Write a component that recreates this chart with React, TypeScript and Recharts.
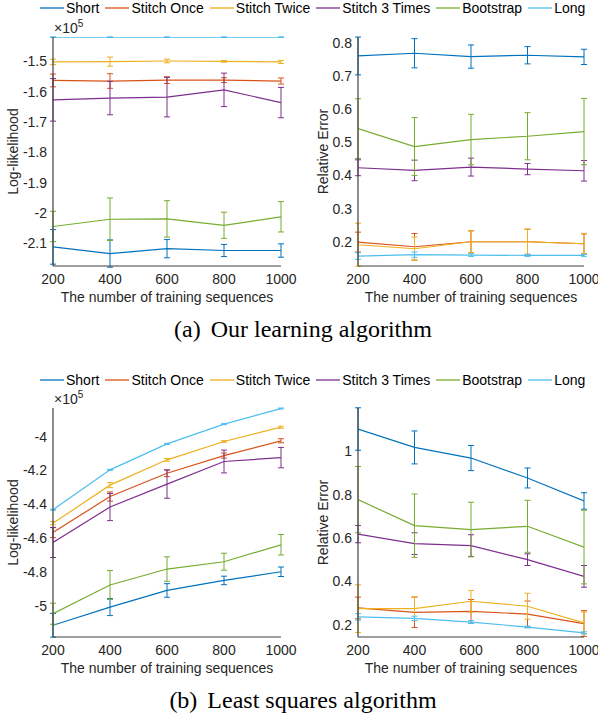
import React from "react";
import { LineChart, Line, XAxis, YAxis, ErrorBar } from "recharts";

const trainingSizes = [200, 400, 600, 800, 1000];
const sizeTicks = [200, 400, 600, 800, 1000];
const seriesNames = ["Short", "Stitch Once", "Stitch Twice", "Stitch 3 Times", "Bootstrap", "Long"];
const seriesColors = ["#0072BD", "#D95319", "#EDB120", "#7E2F8E", "#77AC30", "#4DBEEE"];
const captions = ["(a)", "Our learning algorithm", "(b)", "Least squares algorithm"];
const xLabel = "The number of training sequences";
const yLabels = ["Log-likelihood", "Relative Error"];

// (a) Our learning algorithm — log-likelihood (x 10^5)
const oursLogLikMean = [
  [-2.111, -2.133, -2.117, -2.123, -2.123],
  [-1.563, -1.565, -1.562, -1.562, -1.565],
  [-1.502, -1.501, -1.499, -1.5, -1.502],
  [-1.627, -1.621, -1.618, -1.594, -1.636],
  [-2.044, -2.02, -2.019, -2.04, -2.012],
  [-1.4205, -1.4205, -1.4205, -1.4205, -1.4205],
];
const oursLogLikErr = [
  [0.057, 0.045, 0.03, 0.02, 0.022],
  [0.021, 0.024, 0.011, 0.008, 0.01],
  [0.009, 0.015, 0.006, 0.003, 0.005],
  [0.07, 0.055, 0.065, 0.055, 0.05],
  [0.05, 0.07, 0.06, 0.043, 0.05],
  [0.001, 0.001, 0.001, 0.001, 0.001],
];
const oursLogLikTicks = [-2.1, -2, -1.9, -1.8, -1.7, -1.6, -1.5];
const oursLogLikDomain = [-2.174, -1.42];

// (a) Our learning algorithm — relative error
const oursRelErrMean = [
  [0.76, 0.768, 0.758, 0.762, 0.757],
  [0.199, 0.185, 0.2, 0.2, 0.194],
  [0.191, 0.179, 0.2, 0.2, 0.194],
  [0.423, 0.415, 0.425, 0.419, 0.414],
  [0.541, 0.487, 0.508, 0.518, 0.532],
  [0.157, 0.161, 0.16, 0.159, 0.159],
];
const oursRelErrErr = [
  [0.057, 0.044, 0.035, 0.026, 0.023],
  [0.03, 0.04, 0.033, 0.038, 0.03],
  [0.065, 0.035, 0.033, 0.038, 0.03],
  [0.024, 0.031, 0.027, 0.017, 0.031],
  [0.09, 0.087, 0.076, 0.071, 0.1],
  [0.01, 0.008, 0.004, 0.003, 0.003],
];
const oursRelErrTicks = [0.2, 0.3, 0.4, 0.5, 0.6, 0.7, 0.8];
const oursRelErrDomain = [0.127, 0.817];

// (b) Least squares — log-likelihood (x 10^5)
const lsLogLikMean = [
  [-5.111, -5.004, -4.906, -4.847, -4.796],
  [-4.565, -4.353, -4.216, -4.112, -4.025],
  [-4.51, -4.286, -4.137, -4.029, -3.945],
  [-4.624, -4.415, -4.28, -4.147, -4.124],
  [-5.043, -4.874, -4.78, -4.737, -4.637],
  [-4.431, -4.196, -4.043, -3.927, -3.835],
];
const lsLogLikErr = [
  [0.07, 0.05, 0.04, 0.025, 0.028],
  [0.03, 0.027, 0.02, 0.015, 0.012],
  [0.01, 0.015, 0.008, 0.005, 0.006],
  [0.088, 0.08, 0.083, 0.067, 0.06],
  [0.062, 0.085, 0.072, 0.05, 0.06],
  [0.003, 0.003, 0.003, 0.003, 0.003],
];
const lsLogLikTicks = [-5, -4.8, -4.6, -4.4, -4.2, -4];
const lsLogLikDomain = [-5.18, -3.832];

// (b) Least squares — relative error
const lsRelErrMean = [
  [1.103, 1.018, 0.969, 0.877, 0.771],
  [0.277, 0.257, 0.261, 0.249, 0.205],
  [0.274, 0.274, 0.308, 0.285, 0.208],
  [0.618, 0.574, 0.565, 0.5, 0.423],
  [0.777, 0.657, 0.639, 0.654, 0.558],
  [0.236, 0.229, 0.212, 0.189, 0.162],
];
const lsRelErrErr = [
  [0.098, 0.076, 0.058, 0.046, 0.038],
  [0.05, 0.07, 0.055, 0.06, 0.06],
  [0.11, 0.055, 0.05, 0.06, 0.05],
  [0.04, 0.05, 0.05, 0.027, 0.05],
  [0.153, 0.146, 0.126, 0.12, 0.17],
  [0.015, 0.01, 0.007, 0.004, 0.005],
];
const lsRelErrTicks = [0.2, 0.4, 0.6, 0.8, 1];
const lsRelErrDomain = [0.143, 1.2];

const SANS = '"Liberation Sans", Arial, Helvetica, sans-serif';
const SERIF = '"Liberation Serif", "Times New Roman", serif';
const AXIS = "#262626";

function buildRows(mean: number[][], err: number[][]) {
  return trainingSizes.map((n, i) => {
    const row: Record<string, number> = { n };
    seriesNames.forEach((_, k) => {
      row[`s${k}`] = mean[k][i];
      row[`e${k}`] = err[k][i];
    });
    return row;
  });
}

type PanelProps = {
  left: number;
  top: number;
  width: number;
  yAxisWidth: number;
  marginRight: number;
  domain: number[];
  ticks: number[];
  yLabel: string;
  yLabelOffset: number;
  mean: number[][];
  err: number[][];
};

function Panel(p: PanelProps) {
  const rows = buildRows(p.mean, p.err);
  return (
    <div style={{ position: "absolute", left: p.left, top: p.top }}>
      <LineChart
        width={p.width}
        height={320}
        data={rows}
        margin={{ top: 37, right: p.marginRight, bottom: 0, left: 0 }}
      >
        <XAxis
          dataKey="n"
          type="number"
          domain={[200, 1000]}
          ticks={sizeTicks}
          allowDataOverflow
          tickLine={false}
          tickSize={0}
          tickMargin={8}
          height={54}
          stroke="#404040"
          strokeWidth={1.2}
          tick={{ fill: AXIS, fontSize: 14 }}
          label={{ value: xLabel, position: "insideBottom", offset: 18, fill: AXIS, fontSize: 14 }}
        />
        <YAxis
          type="number"
          domain={p.domain}
          ticks={p.ticks}
          allowDataOverflow
          width={p.yAxisWidth}
          tickLine={false}
          tickSize={0}
          tickMargin={6}
          stroke="#404040"
          strokeWidth={1.2}
          tick={{ fill: AXIS, fontSize: 14 }}
          label={{
            value: p.yLabel,
            angle: -90,
            position: "insideLeft",
            offset: p.yLabelOffset,
            fill: AXIS,
            fontSize: 14,
            style: { textAnchor: "middle" },
          }}
        />
        {seriesNames.map((name, k) => (
          <Line
            key={name}
            name={name}
            type="linear"
            dataKey={`s${k}`}
            stroke={seriesColors[k]}
            strokeWidth={1.2}
            dot={false}
            activeDot={false}
            isAnimationActive={false}
          >
            <ErrorBar
              dataKey={`e${k}`}
              width={3}
              stroke={seriesColors[k]}
              strokeWidth={1}
              direction="y"
              isAnimationActive={false}
            />
          </Line>
        ))}
      </LineChart>
    </div>
  );
}

function LegendRow({ top }: { top: number }) {
  return (
    <div
      style={{
        position: "absolute",
        left: 40,
        top,
        height: 16,
        display: "flex",
        alignItems: "center",
        whiteSpace: "nowrap",
        fontFamily: SANS,
        fontSize: 14,
        color: "#000",
      }}
    >
      {seriesNames.map((name, k) => (
        <div key={name} style={{ display: "flex", alignItems: "center", marginRight: 6 }}>
          <svg width={24} height={16} style={{ display: "block" }}>
            <line x1={0} y1={8} x2={24} y2={8} stroke={seriesColors[k]} strokeWidth={1.3} />
          </svg>
          <span style={{ marginLeft: 2, lineHeight: "16px" }}>{name}</span>
        </div>
      ))}
    </div>
  );
}

export default function App() {
  const dy = 371;
  return (
    <div
      style={{
        position: "absolute",
        left: 0,
        top: 0,
        width: 598,
        height: 719,
        background: "#fff",
        fontFamily: SANS,
        overflow: "hidden",
      }}
    >
      <LegendRow top={0} />
      <LegendRow top={dy + 1} />
      <Panel
        left={0}
        top={0}
        width={300}
        yAxisWidth={53}
        marginRight={19}
        domain={oursLogLikDomain}
        ticks={oursLogLikTicks}
        yLabel={yLabels[0]}
        yLabelOffset={13}
        mean={oursLogLikMean}
        err={oursLogLikErr}
      />
      <Panel
        left={300}
        top={0}
        width={298}
        yAxisWidth={58}
        marginRight={14}
        domain={oursRelErrDomain}
        ticks={oursRelErrTicks}
        yLabel={yLabels[1]}
        yLabelOffset={23}
        mean={oursRelErrMean}
        err={oursRelErrErr}
      />
      <Panel
        left={0}
        top={dy}
        width={300}
        yAxisWidth={53}
        marginRight={19}
        domain={lsLogLikDomain}
        ticks={lsLogLikTicks}
        yLabel={yLabels[0]}
        yLabelOffset={13}
        mean={lsLogLikMean}
        err={lsLogLikErr}
      />
      <Panel
        left={300}
        top={dy}
        width={298}
        yAxisWidth={58}
        marginRight={14}
        domain={lsRelErrDomain}
        ticks={lsRelErrTicks}
        yLabel={yLabels[1]}
        yLabelOffset={23}
        mean={lsRelErrMean}
        err={lsRelErrErr}
      />
      <svg
        width={598}
        height={719}
        style={{ position: "absolute", left: 0, top: 0, pointerEvents: "none" }}
      >
        {[0, dy].map((off) => (
          <text key={off} x={54} y={33.3 + off} fontSize={14} fill={AXIS} fontFamily={SANS}>
            ×10
            <tspan dy={-6} fontSize={10}>5</tspan>
          </text>
        ))}
        <text x={303} y={337} textAnchor="middle" fontSize={24} fill="#000" fontFamily={SERIF}>
          <tspan>{captions[0]}</tspan>
          <tspan dx={4}> {captions[1]}</tspan>
        </text>
        <text x={303} y={708} textAnchor="middle" fontSize={24} fill="#000" fontFamily={SERIF}>
          <tspan>{captions[2]}</tspan>
          <tspan dx={4}> {captions[3]}</tspan>
        </text>
      </svg>
    </div>
  );
}
